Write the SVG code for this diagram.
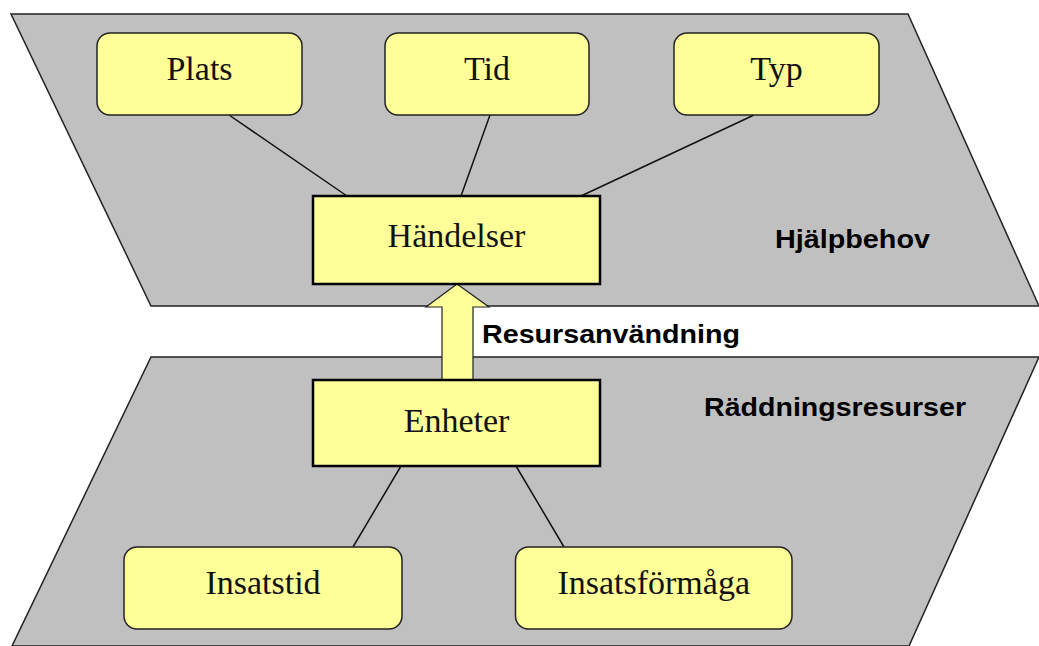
<svg xmlns="http://www.w3.org/2000/svg" width="1039" height="646" viewBox="0 0 1039 646">
<style>
.plane{fill:#c0c0c0;stroke:#222;stroke-width:1.5}
.rbox{fill:#ffff99;stroke:#222;stroke-width:1.5}
.sbox{fill:#ffff99;stroke:#000;stroke-width:2.5}
.lbl{font-family:"Liberation Serif","Times New Roman",serif;font-size:34px;fill:#111;text-anchor:middle}
.hdr{font-family:"Liberation Sans",Arial,sans-serif;font-size:26px;font-weight:bold;fill:#000}
.conn line{stroke:#111;stroke-width:1.5}
</style>
<rect width="1039" height="646" fill="#fff"/>
<g id="plane-hjalpbehov">
<polygon class="plane" points="11,14 908,14 1039,306 151,306"/>
<text class="hdr" x="775" y="248" textLength="155" lengthAdjust="spacingAndGlyphs">Hjälpbehov</text>
</g>
<g id="plane-raddningsresurser">
<polygon class="plane" points="151,357 1039,357 909,646 12,646"/>
<text class="hdr" x="704" y="416" textLength="262" lengthAdjust="spacingAndGlyphs">Räddningsresurser</text>
</g>
<g class="conn" id="connectors">
<line x1="229" y1="115" x2="347" y2="196"/>
<line x1="490" y1="115" x2="461" y2="196"/>
<line x1="754" y1="115" x2="581" y2="196"/>
<line x1="401" y1="466" x2="353" y2="547"/>
<line x1="516" y1="466" x2="564" y2="547"/>
<polygon points="442,380 442,307 426,307 457,284 489,307 473,307 473,380" fill="#ffff99" stroke="#222" stroke-width="1.2"/>
</g>
<text class="hdr" x="482" y="343" textLength="258" lengthAdjust="spacingAndGlyphs">Resursanvändning</text>
<g id="node-plats"><rect class="rbox" x="97" y="33" width="205" height="82" rx="13"/><text class="lbl" x="199.5" y="80">Plats</text></g>
<g id="node-tid"><rect class="rbox" x="385" y="33" width="204" height="82" rx="13"/><text class="lbl" x="487" y="80">Tid</text></g>
<g id="node-typ"><rect class="rbox" x="674" y="33" width="205" height="82" rx="13"/><text class="lbl" x="776.5" y="80">Typ</text></g>
<g id="node-handelser"><rect class="sbox" x="313" y="196" width="287" height="88"/><text class="lbl" x="456.5" y="247">Händelser</text></g>
<g id="node-enheter"><rect class="sbox" x="313" y="380" width="287" height="86"/><text class="lbl" x="456.5" y="432">Enheter</text></g>
<g id="node-insatstid"><rect class="rbox" x="124" y="547" width="278" height="82" rx="13"/><text class="lbl" x="263" y="594">Insatstid</text></g>
<g id="node-insatsformaga"><rect class="rbox" x="515.5" y="547" width="276.5" height="82" rx="13"/><text class="lbl" x="653.7" y="594">Insatsförmåga</text></g>
</svg>
